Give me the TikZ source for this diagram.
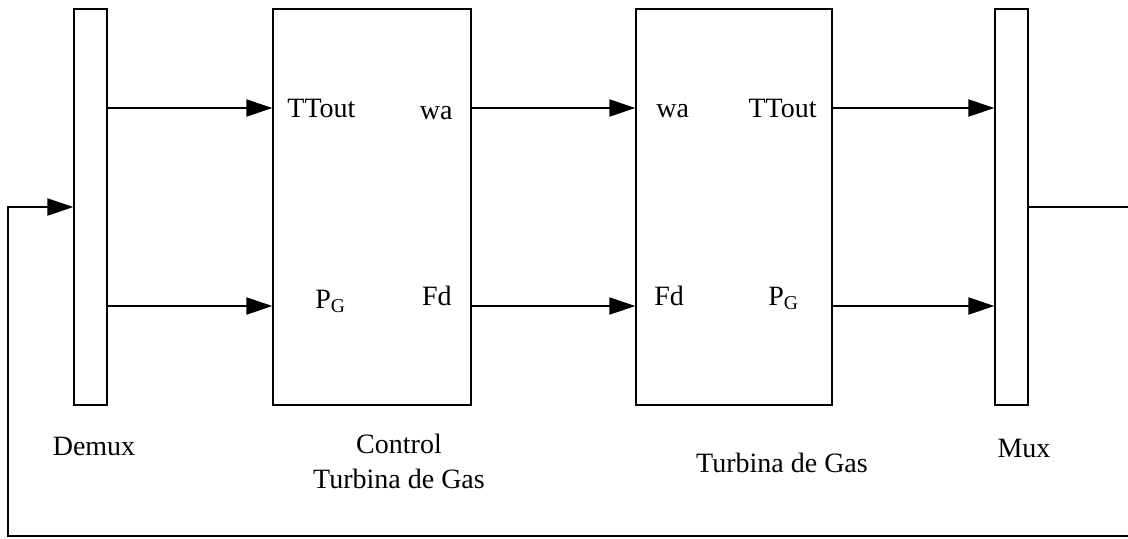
\documentclass[tikz,border=0pt]{standalone}
\usepackage{fontspec}
\setmainfont{Liberation Serif}
\usetikzlibrary{arrows.meta}
\begin{document}
\begin{tikzpicture}[x=0.5pt,y=-0.5pt,
  blk/.style={draw,line width=0.65pt,minimum height=198pt,inner sep=0pt},
  sig/.style={line width=1pt,-{Triangle[length=13pt,width=8.5pt]}},
  txt/.style={inner sep=0pt,font=\fontsize{14}{17.5}\selectfont}]
\useasboundingbox (0,0) rectangle (1128,538);
\node[blk,minimum width=16.5pt] (demux) at (90.5,207) {};
\node[blk,minimum width=99pt] (ctrl) at (372,207) {};
\node[blk,minimum width=98pt] (turb) at (734,207) {};
\node[blk,minimum width=16.5pt] (mux) at (1011.5,207) {};
\coordinate (rowA) at (0,108);
\coordinate (rowB) at (0,306);
\node[txt,anchor=base west] (cTT) at (287,117) {TTout};
\node[txt,anchor=base east] (cwa) at (453,119) {wa};
\node[txt,anchor=base west] (cPG) at (315,308) {P\textsubscript{G}};
\node[txt,anchor=base east] (cFd) at (452,305) {Fd};
\node[txt,anchor=base west] (twa) at (656,117) {wa};
\node[txt,anchor=base east] (tTT) at (817,117) {TTout};
\node[txt,anchor=base west] (tFd) at (654,305) {Fd};
\node[txt,anchor=base west] (tPG) at (768,305) {P\textsubscript{G}};
\node[txt,anchor=base] (lDemux) at (94,455) {Demux};
\node[txt,anchor=north,align=center] (lCtrl) at (399,434) {Control\\Turbina de Gas};
\node[txt,anchor=base] (lTurb) at (782,472) {Turbina de Gas};
\node[txt,anchor=base] (lMux) at (1024,457) {Mux};
\draw[sig] (demux.east |- rowA) -- (ctrl.west |- rowA);
\draw[sig] (demux.east |- rowB) -- (ctrl.west |- rowB);
\draw[sig] (ctrl.east |- rowA) -- (turb.west |- rowA);
\draw[sig] (ctrl.east |- rowB) -- (turb.west |- rowB);
\draw[sig] (turb.east |- rowA) -- (mux.west |- rowA);
\draw[sig] (turb.east |- rowB) -- (mux.west |- rowB);
\coordinate (fbR) at (1132,536);
\coordinate (fbL) at (8,536);
\draw[sig] (mux.east) -- (mux.east -| fbR) -- (fbR) -- (fbL) |- (demux.west);
\end{tikzpicture}
\end{document}
